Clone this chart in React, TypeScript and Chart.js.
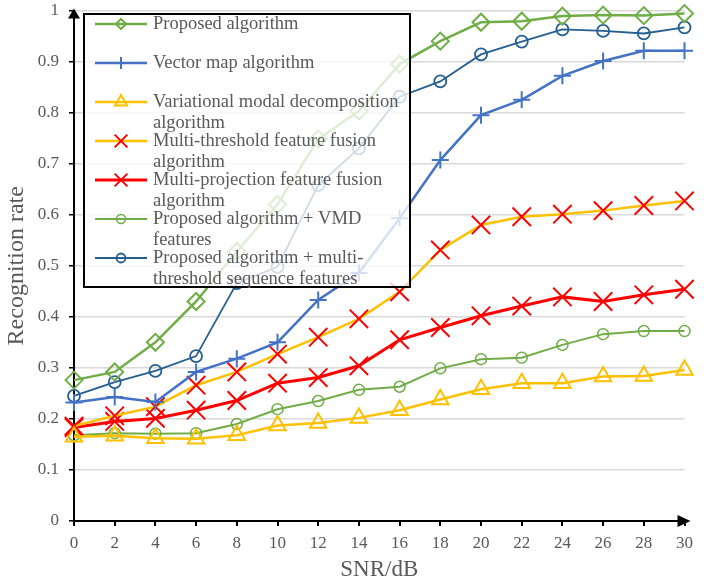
import React, { useEffect, useRef } from "react";
import { Chart, registerables } from "chart.js";

Chart.register(...registerables);

const snr = [0, 2, 4, 6, 8, 10, 12, 14, 16, 18, 20, 22, 24, 26, 28, 30];
const yTicks = [0, 0.1, 0.2, 0.3, 0.4, 0.5, 0.6, 0.7, 0.8, 0.9, 1];

const proposed = [0.276, 0.292, 0.350, 0.430, 0.528, 0.620, 0.748, 0.803, 0.895, 0.940, 0.977, 0.979, 0.989, 0.991, 0.990, 0.994];
const vectorMap = [0.232, 0.243, 0.233, 0.292, 0.318, 0.350, 0.433, 0.486, 0.593, 0.707, 0.795, 0.825, 0.872, 0.901, 0.921, 0.921];
const vmdAlgo = [0.165, 0.167, 0.162, 0.161, 0.168, 0.187, 0.192, 0.202, 0.217, 0.238, 0.258, 0.270, 0.270, 0.283, 0.284, 0.296];
const multiThreshold = [0.186, 0.206, 0.224, 0.266, 0.292, 0.327, 0.360, 0.396, 0.449, 0.531, 0.580, 0.596, 0.601, 0.608, 0.618, 0.627];
const multiProjection = [0.183, 0.195, 0.201, 0.217, 0.236, 0.270, 0.281, 0.304, 0.355, 0.379, 0.402, 0.421, 0.439, 0.430, 0.443, 0.454];
const proposedVmd = [0.168, 0.172, 0.171, 0.172, 0.190, 0.219, 0.235, 0.257, 0.263, 0.299, 0.317, 0.320, 0.345, 0.366, 0.372, 0.372];
const proposedMulti = [0.245, 0.272, 0.294, 0.323, 0.466, 0.498, 0.658, 0.730, 0.831, 0.861, 0.914, 0.939, 0.963, 0.960, 0.955, 0.967];

const seriesLabels = [
  ["Proposed algorithm"],
  ["Vector map algorithm"],
  ["Variational modal decomposition", "algorithm"],
  ["Multi-threshold feature fusion", "algorithm"],
  ["Multi-projection feature fusion", "algorithm"],
  ["Proposed algorithm + VMD", "features"],
  ["Proposed algorithm + multi-", "threshold sequence features"],
];

const GREEN = "#70AD47";
const BLUE = "#4472C4";
const GOLD = "#FFC000";
const RED = "#FF0000";
const DARKBLUE = "#255E91";
const TEXT = "#595959";
const FONT = "'Liberation Serif', 'Times New Roman', serif";

type Style = {
  line: string;
  marker: string;
  shape: string;
  radius: number;
  legendRadius: number;
  width: number;
  markerWidth: number;
};

const styles: Style[] = [
  { line: GREEN, marker: GREEN, shape: "rectRot", radius: 8.5, legendRadius: 5, width: 2.5, markerWidth: 2 },
  { line: BLUE, marker: BLUE, shape: "cross", radius: 8.5, legendRadius: 6, width: 2.5, markerWidth: 2 },
  { line: GOLD, marker: GOLD, shape: "triangle", radius: 9.5, legendRadius: 7, width: 2.5, markerWidth: 2 },
  { line: GOLD, marker: RED, shape: "crossRot", radius: 13, legendRadius: 9, width: 2.5, markerWidth: 2 },
  { line: RED, marker: RED, shape: "crossRot", radius: 13, legendRadius: 9, width: 3, markerWidth: 2 },
  { line: GREEN, marker: GREEN, shape: "circle", radius: 5.5, legendRadius: 4.5, width: 2, markerWidth: 1.5 },
  { line: DARKBLUE, marker: DARKBLUE, shape: "circle", radius: 6, legendRadius: 4.5, width: 1.8, markerWidth: 1.8 },
];

const seriesValues = [proposed, vectorMap, vmdAlgo, multiThreshold, multiProjection, proposedVmd, proposedMulti];

function drawMarker(ctx: CanvasRenderingContext2D, shape: string, x: number, y: number, r: number) {
  ctx.beginPath();
  if (shape === "circle") {
    ctx.arc(x, y, r, 0, Math.PI * 2);
  } else if (shape === "rectRot") {
    ctx.moveTo(x, y - r);
    ctx.lineTo(x + r, y);
    ctx.lineTo(x, y + r);
    ctx.lineTo(x - r, y);
    ctx.closePath();
  } else if (shape === "cross") {
    ctx.moveTo(x - r, y);
    ctx.lineTo(x + r, y);
    ctx.moveTo(x, y - r);
    ctx.lineTo(x, y + r);
  } else if (shape === "crossRot") {
    const d = r * Math.SQRT1_2;
    ctx.moveTo(x - d, y - d);
    ctx.lineTo(x + d, y + d);
    ctx.moveTo(x - d, y + d);
    ctx.lineTo(x + d, y - d);
  } else if (shape === "triangle") {
    for (let k = 0; k < 3; k++) {
      const a = (k * 2 * Math.PI) / 3;
      const px = x + Math.sin(a) * r;
      const py = y - Math.cos(a) * r;
      if (k === 0) ctx.moveTo(px, py);
      else ctx.lineTo(px, py);
    }
    ctx.closePath();
  }
  ctx.stroke();
}

const overlayPlugin = {
  id: "overlay",
  afterDraw(chart: any) {
    const ctx: CanvasRenderingContext2D = chart.ctx;
    const area = chart.chartArea;
    ctx.save();
    // axis arrows
    ctx.fillStyle = "#000";
    ctx.strokeStyle = "#000";
    ctx.lineWidth = 2;
    ctx.beginPath();
    ctx.moveTo(area.left, area.top - 2);
    ctx.lineTo(area.left - 6, area.top + 8);
    ctx.lineTo(area.left + 6, area.top + 8);
    ctx.closePath();
    ctx.fill();
    ctx.beginPath();
    ctx.moveTo(area.right, area.bottom);
    ctx.lineTo(area.right + 2, area.bottom);
    ctx.stroke();
    ctx.beginPath();
    ctx.moveTo(area.right + 6, area.bottom);
    ctx.lineTo(area.right - 7, area.bottom - 6);
    ctx.lineTo(area.right - 7, area.bottom + 6);
    ctx.closePath();
    ctx.fill();

    // legend
    const bx = 84, by = 14, bw = 326, bh = 273;
    ctx.fillStyle = "rgba(255,255,255,0.78)";
    ctx.fillRect(bx, by, bw, bh);
    ctx.strokeStyle = "#000";
    ctx.lineWidth = 2;
    ctx.strokeRect(bx, by, bw, bh);
    ctx.font = `18.5px ${FONT}`;
    ctx.textBaseline = "middle";
    ctx.textAlign = "left";
    seriesLabels.forEach((lines, i) => {
      const st = styles[i];
      const y = by + 10 + i * 39;
      ctx.strokeStyle = st.line;
      ctx.lineWidth = st.width;
      ctx.beginPath();
      ctx.moveTo(95, y);
      ctx.lineTo(147, y);
      ctx.stroke();
      ctx.strokeStyle = st.marker;
      ctx.lineWidth = st.markerWidth;
      drawMarker(ctx, st.shape, 121, y, st.legendRadius);
      ctx.fillStyle = TEXT;
      lines.forEach((t, j) => {
        ctx.fillText(t, 153, y + j * 21.5);
      });
    });
    ctx.restore();
  },
};

export default function App() {
  const canvasRef = useRef<HTMLCanvasElement | null>(null);

  useEffect(() => {
    document.body.style.margin = "0";
    const canvas = canvasRef.current;
    if (!canvas) return;
    const datasets = seriesValues.map((vals, i) => {
      const st = styles[i];
      return {
        label: seriesLabels[i].join(" "),
        data: snr.map((x, k) => ({ x, y: vals[k] })),
        borderColor: st.line,
        borderWidth: st.width,
        pointStyle: st.shape,
        pointRadius: st.radius,
        pointBorderColor: st.marker,
        pointBackgroundColor: "rgba(0,0,0,0)",
        pointBorderWidth: st.markerWidth,
        tension: 0,
        fill: false,
        clip: false as any,
      };
    });
    const chart = new Chart(canvas, {
      type: "line",
      data: { datasets },
      options: {
        animation: false,
        responsive: false,
        layout: { autoPadding: false, padding: { top: 10.5, right: 19.5, left: 0, bottom: 0 } },
        plugins: { legend: { display: false }, tooltip: { enabled: false } },
        scales: {
          x: {
            type: "linear",
            min: 0,
            max: 30,
            afterFit: (s: any) => {
              s.height = 65;
            },
            afterBuildTicks: (s: any) => {
              s.ticks = snr.map((v) => ({ value: v }));
            },
            ticks: {
              color: TEXT,
              font: { family: FONT, size: 17 },
              padding: 7,
              maxRotation: 0,
              callback: (v: any) => String(v),
            },
            grid: { drawOnChartArea: false, tickLength: 5, tickColor: "#000", lineWidth: 2 },
            border: { color: "#000", width: 2 },
            title: {
              display: true,
              text: "SNR/dB",
              color: TEXT,
              font: { family: FONT, size: 23 },
              padding: { top: 0, bottom: 2 },
            },
          },
          y: {
            type: "linear",
            min: 0,
            max: 1,
            afterFit: (s: any) => {
              s.width = 74;
              s.paddingTop = 0;
              s.paddingBottom = 0;
            },
            afterBuildTicks: (s: any) => {
              s.ticks = yTicks.map((v) => ({ value: v }));
            },
            ticks: {
              color: TEXT,
              font: { family: FONT, size: 17 },
              padding: 10,
              callback: (v: any) => String(Math.round(Number(v) * 10) / 10),
            },
            grid: { color: "#D9D9D9", lineWidth: 1.5, tickLength: 5, tickColor: "#000" },
            border: { color: "#000", width: 2 },
            title: {
              display: true,
              text: "Recognition rate",
              color: TEXT,
              font: { family: FONT, size: 24 },
              padding: { top: 2, bottom: 0 },
            },
          },
        },
      },
      plugins: [overlayPlugin],
    });
    return () => chart.destroy();
  }, []);

  return (
    <div style={{ position: "absolute", left: 0, top: 0, width: 704, height: 586, background: "#fff" }}>
      <canvas ref={canvasRef} width={704} height={586} style={{ display: "block" }} />
    </div>
  );
}
